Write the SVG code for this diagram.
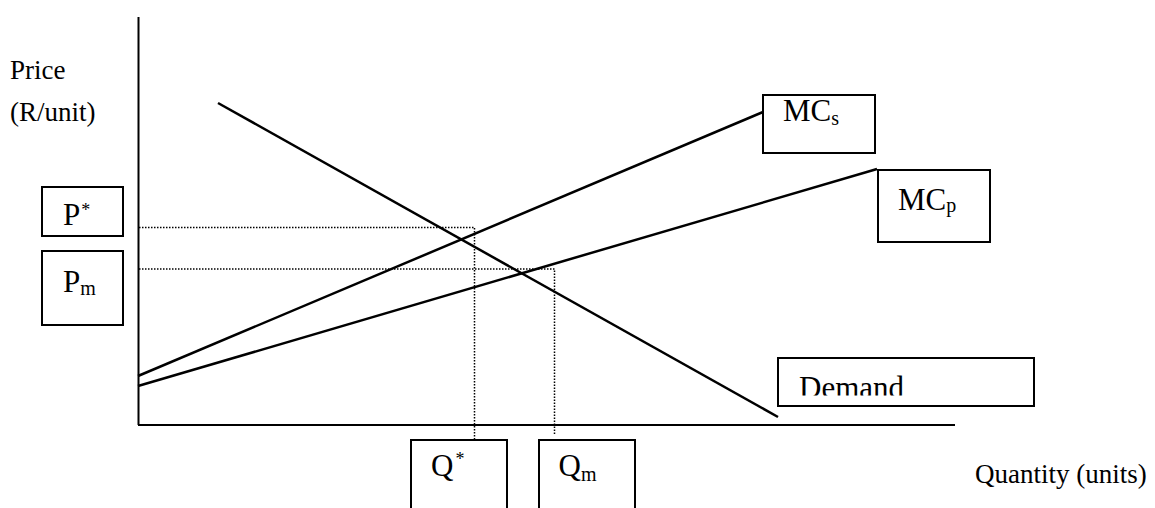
<svg xmlns="http://www.w3.org/2000/svg" width="1155" height="508" viewBox="0 0 1155 508">
<style>
.t{font-family:"Liberation Serif","Times New Roman",serif;font-size:27px;fill:#000}
.b{font-size:31px}
.s{font-size:20px}
.st{font-size:18px}
.box{fill:#fff;stroke:#000;stroke-width:2}
.ax{stroke:#000;stroke-width:2;fill:none}
.ln{stroke:#000;stroke-width:2.5;fill:none}
.dot{stroke:#000;stroke-width:1.5;stroke-dasharray:1.5 1.5;fill:none}
</style>
<defs>
<clipPath id="dclip"><rect x="778" y="358" width="256" height="37.5"/></clipPath>
</defs>
<g id="axes">
<line class="ax" x1="138.5" y1="17" x2="138.5" y2="425"/>
<line class="ax" x1="138" y1="425" x2="955" y2="425"/>
</g>
<g id="connectors">
<line class="ln" x1="138" y1="376" x2="763" y2="112"/>
<line class="ln" x1="138" y1="386" x2="877" y2="169"/>
<line class="ln" x1="218" y1="103" x2="778" y2="417"/>
<polyline class="dot" points="139,227.5 474.5,227.5 474.5,440"/>
<polyline class="dot" points="139,269 554.5,269 554.5,434"/>
</g>
<g id="price-label">
<text class="t" x="10" y="79">Price</text>
<text class="t" x="10" y="121">(R/unit)</text>
</g>
<g id="quantity-label">
<text class="t" x="975" y="483">Quantity (units)</text>
</g>
<g id="pstar">
<rect class="box" x="42" y="187" width="81" height="49"/>
<text class="t b" x="63" y="225">P<tspan class="st" dx="1" dy="-9">*</tspan></text>
</g>
<g id="pm">
<rect class="box" x="42" y="251" width="81" height="74"/>
<text class="t b" x="63" y="291.5">P<tspan class="s" dy="3">m</tspan></text>
</g>
<g id="mcs">
<rect class="box" x="763" y="95" width="112" height="58"/>
<text class="t b" x="783" y="121">MC<tspan class="s" dy="4">s</tspan></text>
</g>
<g id="mcp">
<rect class="box" x="878" y="170" width="112" height="72"/>
<text class="t b" x="898" y="210">MC<tspan class="s" dy="2">p</tspan></text>
</g>
<g id="demand">
<rect class="box" x="778" y="358" width="256" height="48"/>
<text class="t" style="font-size:31px" x="799" y="398" clip-path="url(#dclip)">Demand</text>
</g>
<g id="qstar">
<rect class="box" x="411" y="440" width="96" height="80"/>
<text class="t b" x="431" y="476">Q<tspan class="st" dx="2" dy="-11.5">*</tspan></text>
</g>
<g id="qm">
<rect class="box" x="539" y="440" width="96" height="80"/>
<text class="t b" x="558.5" y="476">Q<tspan class="s" dy="5">m</tspan></text>
</g>
</svg>
